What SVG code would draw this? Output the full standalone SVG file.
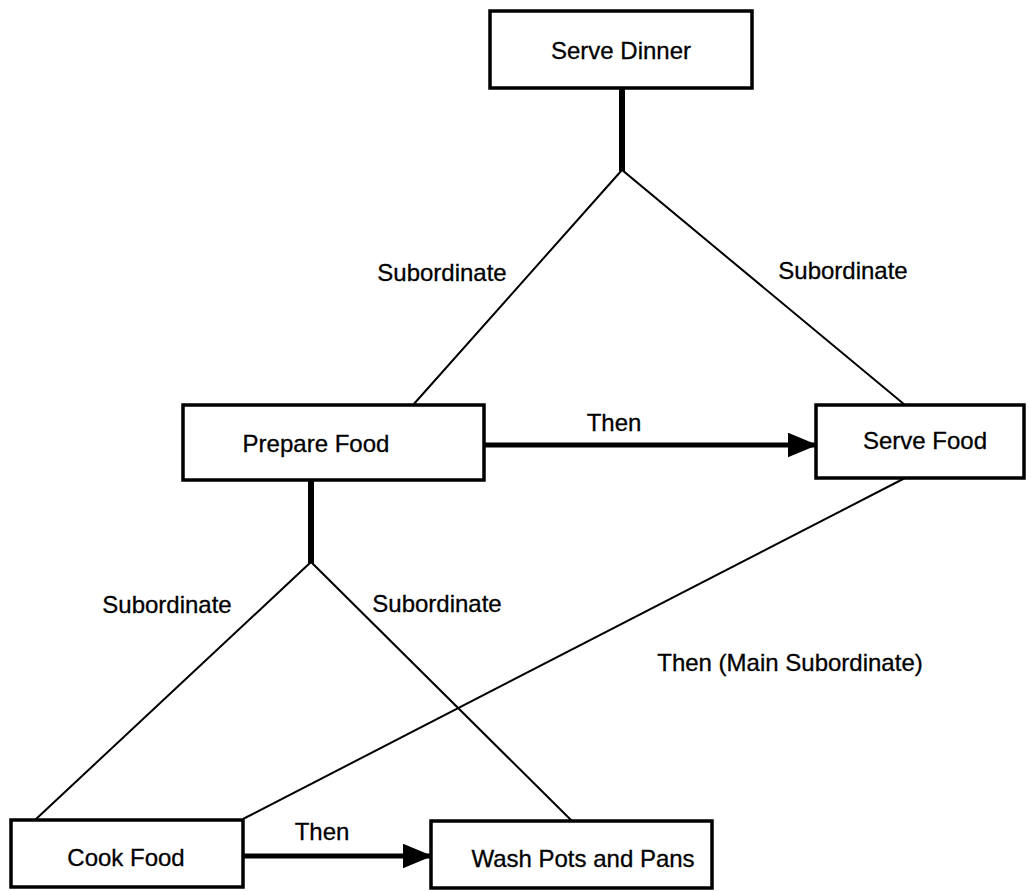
<svg xmlns="http://www.w3.org/2000/svg" width="1031" height="891" viewBox="0 0 1031 891">
<style>
.box{fill:#fff;stroke:#000;stroke-width:3.5}
.t{font-family:"Liberation Sans",Arial,sans-serif;font-size:24px;fill:#000;stroke:#000;stroke-width:0.3;text-anchor:middle;dominant-baseline:central}
.thin{stroke:#000;stroke-width:2;fill:none}
.stem{stroke:#000;stroke-width:6;fill:none}
.arr{stroke:#000;stroke-width:5;fill:none}
</style>
<defs>
<marker id="ah" markerWidth="6" markerHeight="5" refX="5.5" refY="2.5" orient="auto" markerUnits="strokeWidth">
<path d="M0,0 L6,2.5 L0,5 Z" fill="#000"/>
</marker>
</defs>
<rect width="1031" height="891" fill="#fff"/>
<g id="connectors">
<line class="stem" x1="622" y1="88" x2="622" y2="171"/>
<polyline class="thin" points="413,405 622,170 905,405"/>
<line class="stem" x1="311" y1="480" x2="311" y2="563"/>
<polyline class="thin" points="35,820 311,562 573,822"/>
<line class="thin" x1="905" y1="478" x2="243" y2="819"/>
<line class="arr" x1="484" y1="445" x2="815" y2="445" marker-end="url(#ah)"/>
<line class="arr" x1="243" y1="856" x2="430" y2="856" marker-end="url(#ah)"/>
<text class="t" x="442" y="272">Subordinate</text>
<text class="t" x="843" y="270">Subordinate</text>
<text class="t" x="614" y="422">Then</text>
<text class="t" x="167" y="604">Subordinate</text>
<text class="t" x="437" y="603">Subordinate</text>
<text class="t" x="790" y="662">Then (Main Subordinate)</text>
<text class="t" x="322" y="831">Then</text>
</g>
<g id="serve-dinner">
<rect class="box" x="490" y="11" width="262" height="77"/>
<text class="t" x="621" y="50">Serve Dinner</text>
</g>
<g id="prepare-food">
<rect class="box" x="183" y="405" width="301" height="75"/>
<text class="t" x="316" y="443">Prepare Food</text>
</g>
<g id="serve-food">
<rect class="box" x="816" y="405" width="208" height="73"/>
<text class="t" x="925" y="440">Serve Food</text>
</g>
<g id="cook-food">
<rect class="box" x="11" y="820" width="232" height="67"/>
<text class="t" x="126" y="857">Cook Food</text>
</g>
<g id="wash-pots">
<rect class="box" x="431" y="821" width="281" height="67"/>
<text class="t" x="583" y="858">Wash Pots and Pans</text>
</g>
</svg>
